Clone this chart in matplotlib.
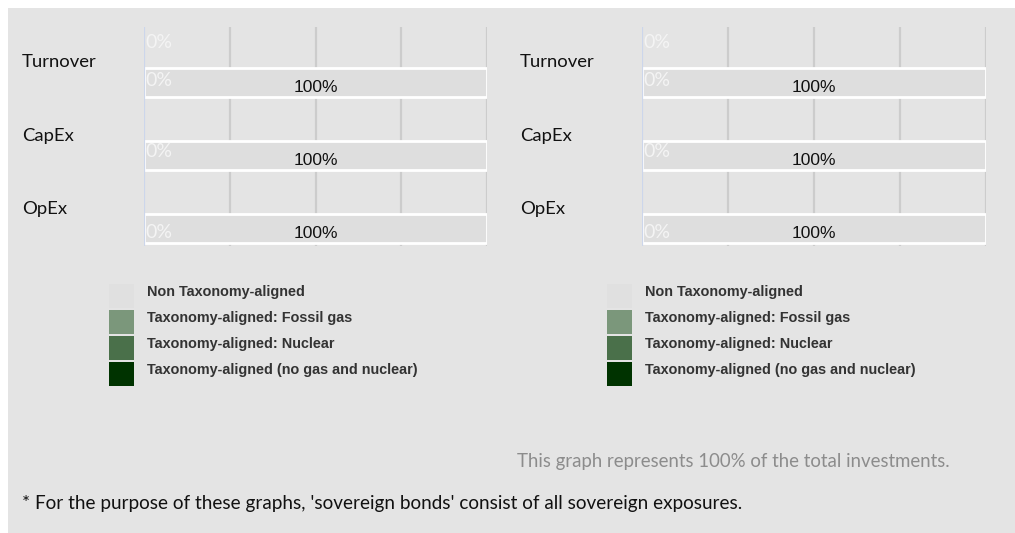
import matplotlib.pyplot as plt
from matplotlib.patches import Rectangle

# Data
categories = ['Turnover', 'CapEx', 'OpEx']
aligned = [0, 0, 0]          # taxonomy-aligned share (%)
non_aligned = [100, 100, 100]  # non taxonomy-aligned share (%)
legend_labels = ['Non Taxonomy-aligned', 'Taxonomy-aligned: Fossil gas',
                 'Taxonomy-aligned: Nuclear', 'Taxonomy-aligned (no gas and nuclear)']
legend_colors = ['#e0e0e0', '#7b977b', '#4a704a', '#003300']

W, H = 1015, 533
bg = '#e4e4e4'
fig = plt.figure(figsize=(W / 100, H / 100), dpi=100)
fig.patch.set_facecolor('white')
fig.add_artist(Rectangle((8 / W, 0), 1 - 8 / W, 1 - 8 / H, transform=fig.transFigure,
                         facecolor=bg, edgecolor='none', zorder=-10))

label_font = ['Lato', 'DejaVu Sans']


def draw_chart(x0, x1, label_x, legend_x):
    top, bottom = 27, 246
    ax = fig.add_axes([x0 / W, 1 - bottom / H, (x1 - x0) / W, (bottom - top) / H])
    ax.set_facecolor('none')
    ax.set_xlim(0, 100)
    ax.set_ylim(2.5, -0.5)
    for s in ax.spines.values():
        s.set_visible(False)
    ax.set_xticks([])
    ax.set_yticks([])
    for g in [25, 50, 75, 100]:
        ax.axvline(g, color='#cccccc', lw=1.6, zorder=0)
    ax.axvline(0, color='#ccd6eb', lw=1.6, zorder=3)

    ypos = [i + 0.26 for i in range(len(categories))]
    ax.barh(ypos, non_aligned, left=aligned, height=0.4, color='#dedede',
            edgecolor='white', linewidth=2, zorder=2)
    ax.barh(ypos, aligned, height=0.4, color=legend_colors[3], zorder=2)

    # value labels
    for i, v in enumerate(non_aligned):
        ax.text(50, ypos[i] + 0.07, f'{v}%', ha='center', va='center',
                fontsize=12.5, color='#111111', family=['Liberation Sans'], zorder=4)
    # 0% labels (first series on Turnover, and inside the bars)
    ax.text(0.4, -0.29, f'{aligned[0]}%', ha='left', va='center', fontsize=14,
            color='#f4f4f4', family=label_font, zorder=4)
    offs = [-0.03, -0.06, 0.05]
    for i, v in enumerate(aligned):
        ax.text(0.4, ypos[i] + offs[i], f'{v}%', ha='left', va='center', fontsize=14,
                color='#f4f4f4', family=label_font, zorder=4)

    for i, c in enumerate(categories):
        fig.text(label_x / W, 1 - (62 + 73.5 * i) / H, c, ha='left', va='center',
                 fontsize=13.3, color='#111111', family=label_font)

    # legend
    for j, (lab, col) in enumerate(zip(legend_labels, legend_colors)):
        ytop = 284 + 26 * j
        fig.add_artist(Rectangle((legend_x / W, 1 - (ytop + 24) / H), 25 / W, 24 / H,
                                 transform=fig.transFigure, facecolor=col,
                                 edgecolor='none'))
        fig.text((legend_x + 38) / W, 1 - (ytop + 8) / H, lab, ha='left', va='center',
                 fontsize=10.4, fontweight='bold', color='#333333', family='Liberation Sans')


draw_chart(144, 487, 22, 109)
draw_chart(642, 986, 520, 607)

fig.text(950 / W, 1 - 462 / H, 'This graph represents 100% of the total investments.',
         ha='right', va='center', fontsize=13.4, color='#8c8c8c', family=label_font)
fig.text(22 / W, 1 - 504 / H,
         "* For the purpose of these graphs, 'sovereign bonds' consist of all sovereign exposures.",
         ha='left', va='center', fontsize=13.6, color='#111111', family=label_font)

fig.savefig('out.png', dpi=100, facecolor=fig.get_facecolor())
